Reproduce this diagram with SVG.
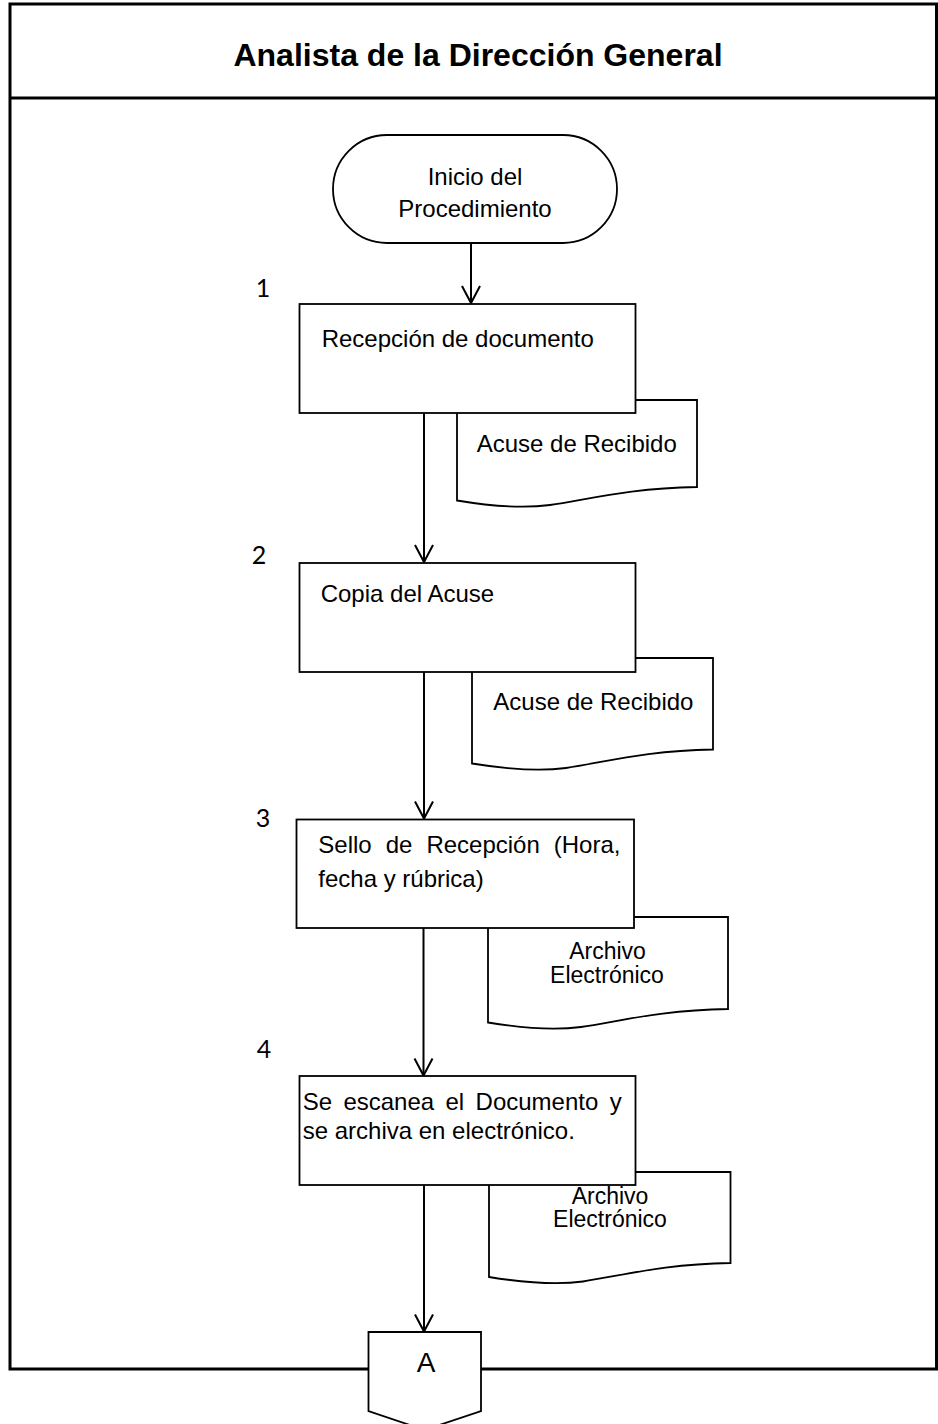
<svg xmlns="http://www.w3.org/2000/svg" width="938" height="1424" viewBox="0 0 938 1424">
  <defs>
    <style>
      .frame { fill: none; stroke: #000; stroke-width: 3; }
      .shape { fill: #fff; stroke: #000; stroke-width: 1.8; }
      .link { fill: none; stroke: #000; stroke-width: 2; }
      .txt { font-family: "Liberation Sans", Arial, sans-serif; font-size: 24px; fill: #000; }
      .doc { font-size: 23px; }
      .mid { text-anchor: middle; }
      .title { font-family: "Liberation Sans", Arial, sans-serif; font-size: 32px; font-weight: bold; fill: #000; text-anchor: middle; }
      .num { font-family: Lato, "Open Sans", sans-serif; font-size: 25px; fill: #000; text-anchor: middle; }
    </style>
    <marker id="open-arrow" markerUnits="userSpaceOnUse" markerWidth="40" markerHeight="40" refX="0" refY="0" orient="auto" overflow="visible">
      <path d="M-17,-9 L0,0 L-17,9" fill="none" stroke="#000" stroke-width="2"/>
    </marker>
  </defs>

  <!-- swimlane frame and header -->
  <g id="lane">
    <path class="frame" d="M368,1369 H10 V4 H936.5 V1369 H481"/>
    <line class="frame" x1="10" y1="98" x2="936.5" y2="98"/>
    <text class="title" x="478" y="66">Analista de la Dirección General</text>
  </g>

  <!-- step numbers -->
  <g id="step-numbers">
    <text class="num" x="263" y="297">1</text>
    <text class="num" x="259" y="564">2</text>
    <text class="num" x="263" y="827">3</text>
    <text class="num" x="264" y="1058">4</text>
  </g>

  <!-- connectors -->
  <g id="connectors">
    <line class="link" x1="471" y1="243" x2="471" y2="303" marker-end="url(#open-arrow)"/>
    <line class="link" x1="424" y1="413" x2="424" y2="562" marker-end="url(#open-arrow)"/>
    <line class="link" x1="424" y1="672" x2="424" y2="818.5" marker-end="url(#open-arrow)"/>
    <line class="link" x1="423.5" y1="928" x2="423.5" y2="1075.5" marker-end="url(#open-arrow)"/>
    <line class="link" x1="424" y1="1185" x2="424" y2="1331.5" marker-end="url(#open-arrow)"/>
  </g>

  <!-- start terminator -->
  <g id="inicio">
    <rect class="shape" x="333" y="135" width="284" height="108" rx="54" ry="54"/>
    <text class="txt mid" x="475" y="185">Inicio del</text>
    <text class="txt mid" x="475" y="217">Procedimiento</text>
  </g>

  <!-- documents (drawn under the process boxes) -->
  <g id="doc-1">
    <path class="shape" d="M457,400 H697 V487 C630,488 590,499 550,505 C520,509 490,506 457,500.5 Z"/>
    <text class="txt" x="476.7" y="451.7">Acuse de Recibido</text>
  </g>
  <g id="doc-2">
    <path class="shape" d="M472,658 H713 V749.5 C646,750.5 606,762 566,768 C536,772 506,769 472,763.5 Z"/>
    <text class="txt" x="493.3" y="710">Acuse de Recibido</text>
  </g>
  <g id="doc-3">
    <path class="shape" d="M488,917 H728 V1009 C661,1010 621,1021 581,1027 C551,1031 521,1028 488,1022.5 Z"/>
    <text class="txt doc mid" x="607.5" y="959">Archivo</text>
    <text class="txt doc mid" x="607" y="983">Electrónico</text>
  </g>
  <g id="doc-4">
    <path class="shape" d="M489,1172 H730.5 V1263 C663,1264 623,1275.5 583,1281.5 C553,1285.5 523,1282.5 489,1277 Z"/>
  </g>

  <!-- process steps -->
  <g id="paso-1">
    <rect class="shape" x="299.5" y="304" width="336" height="109"/>
    <text class="txt" x="321.7" y="346.7">Recepción de documento</text>
  </g>
  <g id="paso-2">
    <rect class="shape" x="299.5" y="563" width="336" height="109"/>
    <text class="txt" x="320.7" y="601.7">Copia del Acuse</text>
  </g>
  <g id="paso-3">
    <rect class="shape" x="296.5" y="819.5" width="337.5" height="108.5"/>
    <text class="txt" y="853.3"><tspan x="318.3">Sello</tspan><tspan x="385.7">de</tspan><tspan x="426.4">Recepción</tspan><tspan x="553.8">(Hora,</tspan></text>
    <text class="txt" x="318.3" y="887.3">fecha y rúbrica)</text>
  </g>
  <g id="paso-4">
    <rect class="shape" x="299.5" y="1076" width="336" height="109"/>
    <text class="txt" y="1110"><tspan x="302.7">Se</tspan><tspan x="343.4">escanea</tspan><tspan x="445.5">el</tspan><tspan x="475.6">Documento</tspan><tspan x="609.7">y</tspan></text>
    <text class="txt" x="302.7" y="1139">se archiva en electrónico.</text>
  </g>
  <g id="doc-4-label">
    <text class="txt doc mid" x="610" y="1203.5">Archivo</text>
    <text class="txt doc mid" x="610" y="1227">Electrónico</text>
  </g>

  <!-- off-page connector -->
  <g id="conector-A">
    <path class="shape" d="M368.5,1332 H481 V1411 L424.5,1430 L368.5,1411 Z"/>
    <text class="txt mid" x="426" y="1372" style="font-size:28px">A</text>
  </g>
</svg>
